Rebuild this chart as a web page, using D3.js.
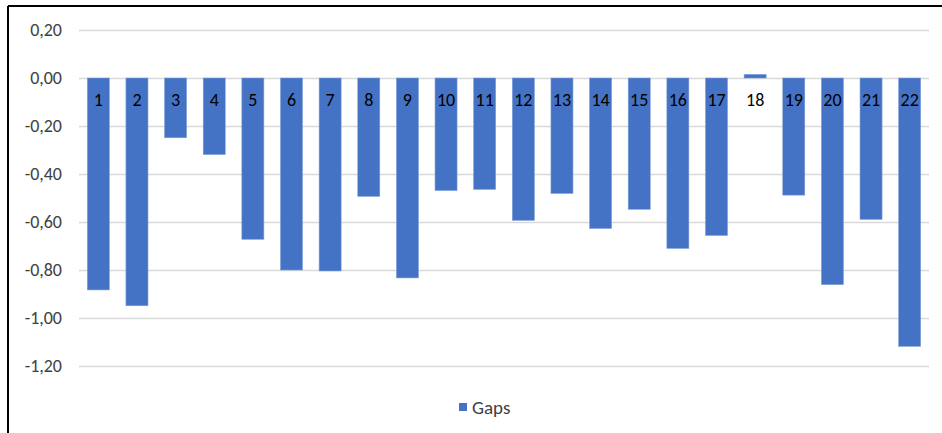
<!DOCTYPE html>
<html>
<head>
<meta charset="utf-8">
<script src="https://cdn.jsdelivr.net/npm/d3@7"></script>
<style>
  html, body { margin: 0; padding: 0; background: #fff; }
  svg { display: block; }
  text { font-family: Carlito, Lato, "Liberation Sans", sans-serif; }
</style>
</head>
<body>
<svg id="chart" width="942" height="433"></svg>
<script>
// Gap per item
const categories = ["1","2","3","4","5","6","7","8","9","10","11","12","13","14","15","16","17","18","19","20","21","22"];
const gaps = [-0.883, -0.949, -0.249, -0.319, -0.672, -0.800, -0.804, -0.493, -0.833, -0.469, -0.464,
              -0.593, -0.481, -0.627, -0.547, -0.710, -0.656, 0.015, -0.488, -0.861, -0.589, -1.118];
const yTicks = [0.2, 0, -0.2, -0.4, -0.6, -0.8, -1.0, -1.2];
const seriesName = "Gaps";

const svg = d3.select("#chart");
const W = 942, H = 433;
const barColor = "#4472C4";
const fontStack = "Carlito, Lato, 'Liberation Sans', sans-serif";

// Frame lines (top and left edges of the chart area)
svg.append("line").attr("x1", 8).attr("x2", W).attr("y1", 6).attr("y2", 6)
  .attr("stroke", "#000").attr("stroke-width", 2);
svg.append("line").attr("x1", 8).attr("x2", 8).attr("y1", 6).attr("y2", H)
  .attr("stroke", "#000").attr("stroke-width", 2);

const x = d3.scaleBand().domain(categories).range([79, 929]).paddingInner(0.43).paddingOuter(0.215);
const y = d3.scaleLinear().domain([-1.2, 0.2]).range([366, 30]);

const fmt = v => d3.format(".2f")(v).replace(".", ",").replace("−", "-");

// Horizontal gridlines and value labels
const yAxis = d3.axisLeft(y).tickValues(yTicks).tickSize(-(929 - 79)).tickFormat(fmt).tickPadding(17);
const gy = svg.append("g").attr("transform", "translate(79,0)").call(yAxis);
gy.select(".domain").remove();
gy.selectAll(".tick line").attr("stroke", "#d9d9d9").attr("stroke-width", 1.5);
gy.selectAll(".tick text").attr("fill", "#404040").style("font-size", "18px")
  .style("font-family", fontStack);

// Bars
svg.append("g").selectAll("rect").data(gaps).join("rect")
  .attr("x", (d, i) => x(categories[i]))
  .attr("width", x.bandwidth())
  .attr("y", d => y(Math.max(0, d)))
  .attr("height", d => Math.abs(y(d) - y(0)))
  .attr("fill", barColor)
  .attr("stroke", "#7f9fd6").attr("stroke-width", 0.6);

// Category labels sitting just below the zero line
const xAxis = d3.axisBottom(x).tickSize(0).tickPadding(15);
const gx = svg.append("g").attr("transform", `translate(0,${y(0)})`).call(xAxis);
gx.select(".domain").remove();
gx.selectAll(".tick text").attr("fill", "#000").style("font-size", "18px")
  .style("font-family", fontStack);

// Legend
const lg = svg.append("g").attr("transform", "translate(459,403)");
lg.append("rect").attr("width", 8).attr("height", 8).attr("fill", barColor);
lg.append("text").attr("x", 13).attr("y", 4).attr("dy", "0.35em")
  .attr("fill", "#404040").style("font-size", "19px").text(seriesName);
</script>
</body>
</html>
